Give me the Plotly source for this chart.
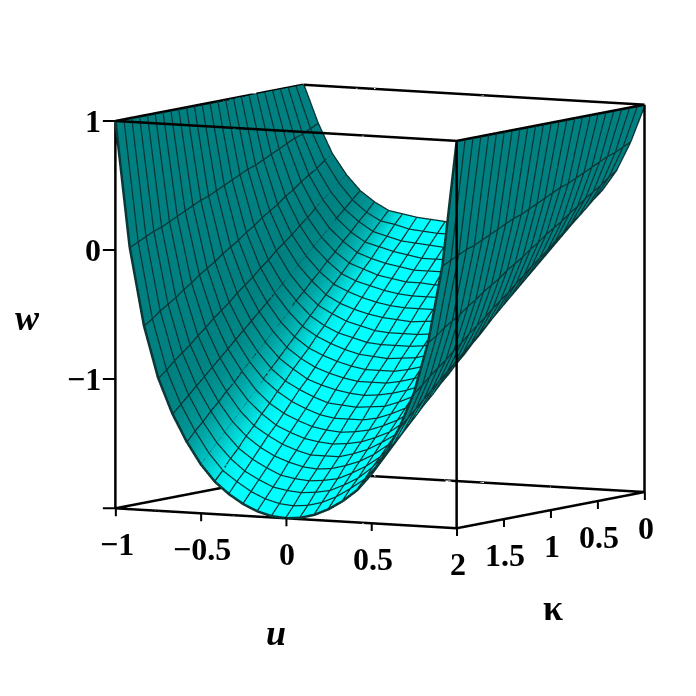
import plotly.graph_objects as go

u_values = [i / 12 - 1 for i in range(25)]
kappa_values = [i / 12 for i in range(25)]

# w read along each |u| column (|u| = 0, 1/12, ... 1), from kappa = 0 to kappa = 2; the surface is even in u
w_u00 = [0,-.08,-.17,-.25,-.33,-.42,-.50,-.58,-.67,-.75,-.83,-.92,-1,-1.08,-1.17,-1.25,-1.33,-1.42,-1.50,-1.58,-1.67,-1.75,-1.83,-1.92,-2]
w_u01 = [0,-.08,-.17,-.25,-.33,-.41,-.50,-.58,-.66,-.75,-.83,-.91,-1,-1.08,-1.16,-1.24,-1.33,-1.41,-1.49,-1.58,-1.66,-1.74,-1.82,-1.91,-1.99]
w_u02 = [0,-.08,-.16,-.25,-.33,-.41,-.49,-.57,-.65,-.74,-.82,-.90,-.98,-1.06,-1.14,-1.23,-1.31,-1.39,-1.47,-1.55,-1.63,-1.72,-1.80,-1.88,-1.96]
w_u03 = [.01,-.07,-.15,-.23,-.31,-.39,-.47,-.55,-.63,-.71,-.79,-.87,-.95,-1.03,-1.11,-1.19,-1.27,-1.35,-1.43,-1.51,-1.59,-1.67,-1.75,-1.83,-1.91]
w_u04 = [.02,-.06,-.14,-.21,-.29,-.37,-.44,-.52,-.60,-.68,-.76,-.83,-.91,-.99,-1.07,-1.14,-1.22,-1.30,-1.38,-1.45,-1.53,-1.61,-1.69,-1.76,-1.84]
w_u05 = [.04,-.03,-.11,-.18,-.26,-.33,-.41,-.48,-.56,-.63,-.71,-.78,-.86,-.93,-1.00,-1.08,-1.15,-1.23,-1.30,-1.38,-1.45,-1.53,-1.60,-1.68,-1.75]
w_u06 = [.06,-.01,-.08,-.15,-.22,-.29,-.36,-.43,-.50,-.57,-.64,-.71,-.78,-.85,-.92,-.99,-1.06,-1.13,-1.20,-1.27,-1.34,-1.41,-1.48,-1.55,-1.62]
w_u07 = [.12,.05,-.01,-.08,-.14,-.21,-.27,-.34,-.40,-.47,-.53,-.60,-.67,-.73,-.80,-.86,-.93,-.99,-1.06,-1.12,-1.19,-1.25,-1.32,-1.38,-1.45]
w_u08 = [.20,.14,.08,.02,-.04,-.10,-.16,-.22,-.28,-.34,-.40,-.46,-.52,-.58,-.64,-.70,-.76,-.82,-.88,-.94,-1.00,-1.06,-1.12,-1.18,-1.24]
w_u09 = [.32,.27,.21,.16,.11,.05,0,-.06,-.11,-.16,-.22,-.27,-.33,-.38,-.43,-.49,-.54,-.59,-.65,-.70,-.76,-.81,-.86,-.92,-.97]
w_u10 = [.48,.44,.39,.35,.31,.26,.22,.17,.13,.09,.04,0,-.05,-.09,-.13,-.18,-.22,-.26,-.31,-.35,-.40,-.44,-.48,-.53,-.57]
w_u11 = [.71,.68,.65,.63,.60,.57,.54,.51,.48,.46,.43,.40,.37,.34,.31,.29,.26,.23,.20,.17,.14,.12,.09,.06,.03]
w_u12 = [1] * 25
half = [w_u00, w_u01, w_u02, w_u03, w_u04, w_u05, w_u06, w_u07, w_u08, w_u09, w_u10, w_u11, w_u12]
w_columns = half[:0:-1] + half
w_rows = [[col[i] for col in w_columns] for i in range(len(kappa_values))]

# brightness of each u column (0 = teal, 1 = cyan)
shade_by_u = [0, 0, 0, 0, .05, .2, .5, .85, 1, 1, 1, 1, 1, 1, 1, 1, 1, 1, 1, 1, 0, 0, 0, 0, 0]
shade_rows = [shade_by_u for _ in kappa_values]

u_ticks = [-1, -0.5, 0, 0.5, 1]
kappa_ticks = [2, 1.5, 1, 0.5, 0]
w_ticks = [-1, 0, 1]
w_tick_marks = [-2, -1, 0, 1]
u_min, u_max = -1, 1
k_min, k_max = 0, 2
w_min, w_max = -2, 1

FONT = "Liberation Serif"
GRID = "#0b3535"
fig = go.Figure(go.Surface(
    x=u_values, y=kappa_values, z=w_rows, surfacecolor=shade_rows,
    cmin=0, cmax=1, colorscale=[[0, "#008080"], [1, "#00ffff"]], showscale=False,
    lighting=dict(ambient=1, diffuse=0, specular=0, roughness=1, fresnel=0),
    hoverinfo="skip",
))

# mesh lines, taken from the same table
lx, ly, lz = [], [], []
for k, row in zip(kappa_values, w_rows):
    lx += u_values + [None]; ly += [k] * len(u_values) + [None]; lz += row + [None]
for u, col in zip(u_values, w_columns):
    lx += [u] * len(kappa_values) + [None]; ly += kappa_values + [None]; lz += col + [None]
fig.add_trace(go.Scatter3d(x=lx, y=ly, z=lz, mode="lines", line=dict(color=GRID, width=5),
                           hoverinfo="skip", showlegend=False))

# frame of the box: each edge is a polyline through several points, drawn in several passes
# so that the passes close each other's gaps
def frame(steps, forward):
    bx, by, bz = [], [], []
    def edge(a, b):
        for i in range(steps + 1):
            t = i / steps if forward else 1 - i / steps
            bx.append(a[0] + (b[0] - a[0]) * t)
            by.append(a[1] + (b[1] - a[1]) * t)
            bz.append(a[2] + (b[2] - a[2]) * t)
        bx.append(None); by.append(None); bz.append(None)
    for k in (k_min, k_max):
        for w in (w_min, w_max):
            edge((u_min, k, w), (u_max, k, w))
    for u in (u_min, u_max):
        for w in (w_min, w_max):
            edge((u, k_min, w), (u, k_max, w))
    for u in (u_min, u_max):
        for k in (k_min, k_max):
            edge((u, k, w_min), (u, k, w_max))
    fig.add_trace(go.Scatter3d(x=bx, y=by, z=bz, mode="lines", line=dict(color="black", width=5),
                               hoverinfo="skip", showlegend=False))

frame(24, True)
frame(17, False)
frame(13, True)
frame(29, False)

def label(v):
    return str(v).replace("-", "\u2212")

tick_font = dict(family=FONT, size=32, color="black")
notes = []
def tick(x, y, z, ax, ay):
    notes.append(dict(x=x, y=y, z=z, text=" ", showarrow=True, arrowhead=0, arrowwidth=2,
                      arrowcolor="black", ax=ax, ay=ay, standoff=0))
def text(x, y, z, s, xshift, yshift, xanchor="center"):
    notes.append(dict(x=x, y=y, z=z, text="<b>%s</b>" % s, showarrow=False, font=tick_font,
                      xshift=xshift, yshift=yshift, xanchor=xanchor))

for v in u_ticks:
    if v != 1:
        text(v, k_max, w_min, label(v), 1, -36)
    tick(v, k_max, w_min, 0, 18)
for v in kappa_ticks:
    if v != 2:
        tick(u_max, v, w_min, 0, 18)
    text(u_max, v, w_min, label(v), 1, -36)
for v in w_tick_marks:
    tick(u_min, k_max, v, -16, 0)
for v in w_ticks:
    text(u_min, k_max, v, label(v), -13, 0, "right")

def hidden_axis(rng):
    return dict(range=rng, visible=False, showgrid=False, zeroline=False, showbackground=False,
                showspikes=False, title=dict(text=""))

title_font = dict(family=FONT, size=36, color="black")
def title(px, py, s):
    return dict(x=px / 696, y=1 - py / 696, xref="paper", yref="paper", showarrow=False,
                xanchor="center", yanchor="middle", text=s, font=title_font)

fig.update_layout(
    width=696, height=696, paper_bgcolor="white", margin=dict(l=0, r=0, t=0, b=0), showlegend=False,
    scene=dict(
        domain=dict(x=[0.0825, 0.9875], y=[0.1425, 1]),
        xaxis=hidden_axis([u_min, u_max]),
        yaxis=hidden_axis([k_max, k_min]),
        zaxis=hidden_axis([w_min, w_max]),
        aspectmode="manual", aspectratio=dict(x=1.305, y=1.305, z=1.305),
        camera=dict(eye=dict(x=0.958, y=-1.74, z=0.212), up=dict(x=0, y=0, z=1),
                    center=dict(x=0, y=0, z=0), projection=dict(type="orthographic")),
        annotations=notes,
    ),
    annotations=[title(19, 310, "<b><i>w</i></b>"), title(268, 625, "<b><i>u</i></b>"),
                 title(545, 600, "<b>\u03ba</b>")],
)
fig.write_html("out.html")
